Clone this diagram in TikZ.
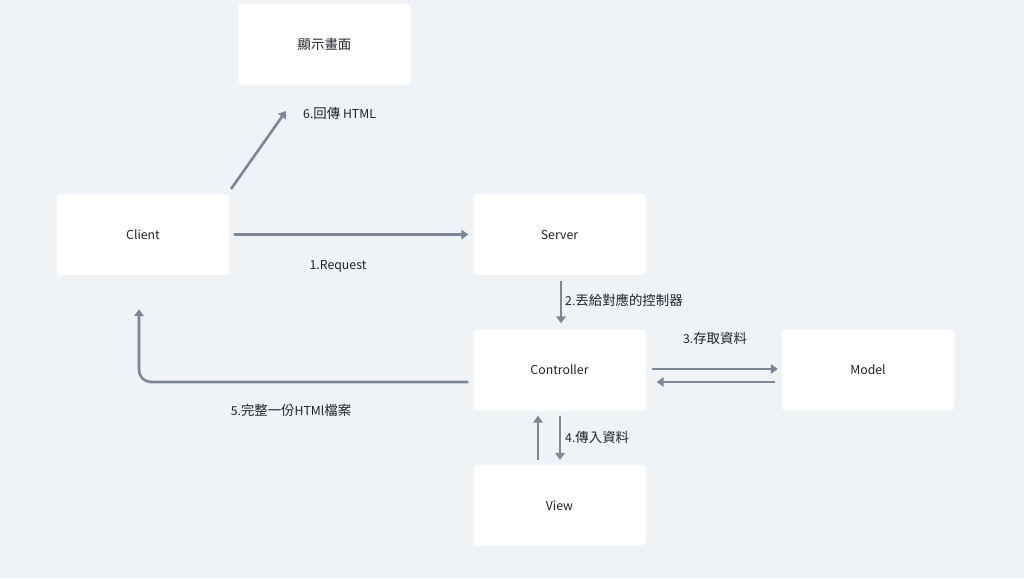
\documentclass[tikz,border=0pt]{standalone}
\usepackage{fontspec}
\setmainfont{Noto Sans CJK TC}
\usetikzlibrary{arrows.meta}
\definecolor{bg}{HTML}{EFF2F6}
\definecolor{arr}{HTML}{7B8796}
\definecolor{txt}{HTML}{1F242B}
\newcommand{\cjk}[1]{{\fontsize{13.4}{15}\selectfont #1}}
\tikzset{
  box/.style={fill=white, rounded corners=3pt, minimum width=172pt, minimum height=81pt, inner sep=0pt, text=txt, font=\fontsize{12.3}{14}\selectfont},
  conn/.style={draw=arr, line width=2.6pt, -{Triangle[length=7pt,width=9.5pt]}},
  lbl/.style={text=txt, font=\fontsize{12.3}{14}\selectfont, inner sep=0pt}
}
\begin{document}
\begin{tikzpicture}[x=1pt,y=-1pt]
\fill[bg] (0,0) rectangle (1024,578);
\useasboundingbox (0,0) rectangle (1024,578);
\node[box] (show) at (324.5,44.5) {\cjk{顯示畫面}};
\node[box] (client) at (143,234.5) {Client};
\node[box] (server) at (559.5,234.5) {Server};
\node[box] (ctrl) at (559.5,370) {Controller};
\node[box] (model) at (868,370) {Model};
\node[box] (view) at (559.5,505.5) {View};
% 6
\coordinate (s6) at (231,189);
\coordinate (e6) at (286,111);
\draw[conn] (s6) -- (e6);
\node[lbl, anchor=west] (l6) at (303,113) {6.\cjk{回傳} HTML};
% 1
\draw[conn, shorten <=5pt, shorten >=5pt] (client.east) -- (server.west);
\node[lbl] (l1) at (338,266) {1.Request};
% 2
\draw[conn, shorten <=6pt, shorten >=6pt] ([xshift=1.5pt]server.south) -- ([xshift=1.5pt]ctrl.north);
\node[lbl, anchor=west] (l2) at (565,300) {2.\cjk{丟給對應的控制器}};
% 3
\draw[conn, shorten <=6pt, shorten >=4pt] ([yshift=1pt]ctrl.east) -- ([yshift=1pt]model.west);
\draw[conn, shorten <=7pt, shorten >=11pt] ([yshift=-12pt]model.west) -- ([yshift=-12pt]ctrl.east);
\node[lbl] (l3) at (715,338) {3.\cjk{存取資料}};
% 5
\draw[conn, rounded corners=12pt, shorten <=5pt, shorten >=34pt] ([yshift=-12pt]ctrl.west) -| ([xshift=-4pt]client.south);
\node[lbl] (l5) at (291,410) {5.\cjk{完整一份}HTMl\cjk{檔案}};
% 4
\draw[conn, shorten <=5pt, shorten >=5pt] ([xshift=-21.5pt]view.north) -- ([xshift=-21.5pt]ctrl.south);
\draw[conn, shorten <=5pt, shorten >=5pt] ([xshift=0.5pt]ctrl.south) -- ([xshift=0.5pt]view.north);
\node[lbl, anchor=west] (l4) at (565,437) {4.\cjk{傳入資料}};
\end{tikzpicture}
\end{document}
